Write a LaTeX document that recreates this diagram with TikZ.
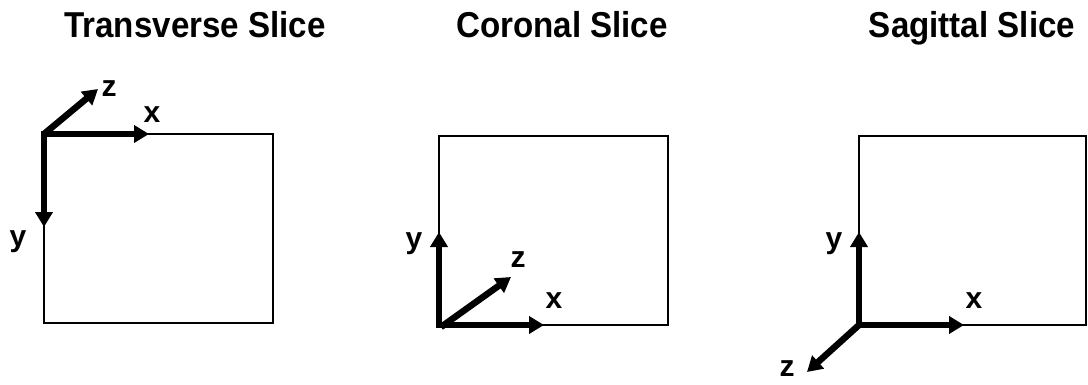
\documentclass[tikz,border=0pt]{standalone}
\usepackage{fontspec}
\setmainfont{Liberation Sans}
\usetikzlibrary{arrows.meta}
\begin{document}
\begin{tikzpicture}[x=1pt,y=-1pt,
  frame/.style={draw=black,line width=1.5pt},
  axis/.style={line width=6.5pt,-{Triangle[length=15pt,width=17pt]},line join=miter},
  axis2/.style={line width=6.5pt,{Triangle[length=15pt,width=17pt]}-{Triangle[length=15pt,width=17pt]},line join=miter},
  title/.style={anchor=base,inner sep=0pt,font=\fontsize{36}{40}\selectfont\bfseries},
  lbl/.style={anchor=base,inner sep=0pt,font=\fontsize{30}{34}\selectfont\bfseries}]
\useasboundingbox (0,0) rectangle (1088,384);
\fill[white] (0,0) rectangle (1088,384);
% titles
\node[title] (t1) at (195,37) {\scalebox{0.92}[1]{Transverse Slice}};
\node[title] (t2) at (562,37) {\scalebox{0.92}[1]{Coronal Slice}};
\node[title] (t3) at (972,37) {\scalebox{0.92}[1]{Sagittal Slice}};
% panel 1
\draw[frame] (44,134) rectangle (273,323);
\coordinate (o1) at (44,134);
\coordinate (x1) at (149,134);
\coordinate (y1) at (44,227);
\coordinate (z1) at (98,89);
\draw[axis2] (y1) -- (o1) -- (x1);
\draw[axis] (o1) -- (z1);
\node[lbl] (lx1) at (152,122) {x};
\node[lbl] (ly1) at (18,246) {y};
\node[lbl] (lz1) at (109,96) {z};
% panel 2
\draw[frame] (439,136) rectangle (668,325);
\coordinate (o2) at (439,325);
\coordinate (x2) at (544,325);
\coordinate (y2) at (439,232);
\coordinate (z2) at (511,277);
\draw[axis2] (y2) -- (o2) -- (x2);
\draw[axis] ([xshift=2pt,yshift=-2pt]o2) -- (z2);
\node[lbl] (lx2) at (554,308) {x};
\node[lbl] (ly2) at (414,248) {y};
\node[lbl] (lz2) at (518,267) {z};
% panel 3
\draw[frame] (859,136) rectangle (1086,325);
\coordinate (o3) at (859,325);
\coordinate (x3) at (964,325);
\coordinate (y3) at (859,232);
\coordinate (z3) at (807,372);
\draw[axis2] (y3) -- (o3) -- (x3);
\draw[axis] (o3) -- (z3);
\node[lbl] (lx3) at (974,308) {x};
\node[lbl] (ly3) at (834,248) {y};
\node[lbl] (lz3) at (787,376) {z};
\end{tikzpicture}
\end{document}
